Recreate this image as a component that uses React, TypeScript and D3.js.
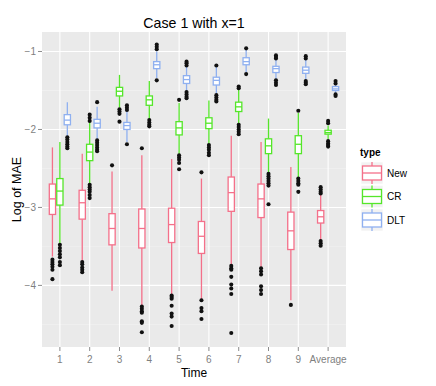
import React, { useRef, useEffect } from 'react';
import * as d3 from 'd3';

const categories = ['1', '2', '3', '4', '5', '6', '7', '8', '9', 'Average'];
const types = ['New', 'CR', 'DLT'];
const colors = ['#F4708A', '#55E62A', '#8FB0F0'];
const yTicks = [-1, -2, -3, -4];
const yMinor = [-1.5, -2.5, -3.5, -4.5];

// [lower whisker, q1, median, q3, upper whisker]
const newStats = [
  [-3.63, -3.09, -2.89, -2.7, -2.23],
  [-3.69, -3.15, -2.94, -2.78, -2.31],
  [-4.07, -3.48, -3.27, -3.08, -2.54],
  [-4.25, -3.52, -3.27, -3.02, -2.33],
  [-4.12, -3.45, -3.22, -3.01, -2.38],
  [-4.18, -3.59, -3.37, -3.18, -2.63],
  [-3.74, -3.05, -2.81, -2.61, -2.08],
  [-3.77, -3.13, -2.89, -2.7, -2.16],
  [-4.19, -3.54, -3.3, -3.06, -2.48],
  [-3.42, -3.2, -3.12, -3.04, -2.84],
];
const newOutliers = [
  [-3.67, -3.7, -3.73, -3.76, -3.8, -3.92],
  [-3.7, -3.73, -3.77, -3.8, -3.83],
  [-2.46],
  [-2.24, -4.27, -4.3, -4.33, -4.35, -4.46, -4.48, -4.6],
  [-4.13, -4.15, -4.17, -4.26, -4.36, -4.4, -4.52],
  [-2.55, -4.19, -4.29, -4.33, -4.43],
  [-3.75, -3.78, -3.8, -3.89, -3.99, -4.04, -4.11, -4.61],
  [-3.78, -3.82, -3.86, -4.01, -4.06, -4.11],
  [-4.25],
  [-2.74, -2.77, -2.8, -2.82, -3.43, -3.46, -3.49],
];

const crStats = [
  [-3.46, -2.97, -2.79, -2.63, -2.16],
  [-2.69, -2.4, -2.29, -2.19, -1.9],
  [-1.72, -1.57, -1.51, -1.46, -1.3],
  [-1.87, -1.69, -1.62, -1.57, -1.38],
  [-2.32, -2.07, -1.98, -1.9, -1.66],
  [-2.19, -1.99, -1.92, -1.85, -1.63],
  [-1.93, -1.77, -1.71, -1.65, -1.49],
  [-2.56, -2.31, -2.21, -2.12, -1.86],
  [-2.61, -2.31, -2.19, -2.08, -1.79],
  [-2.13, -2.06, -2.04, -2.01, -1.95],
];
const crOutliers = [
  [-3.48, -3.52, -3.56, -3.6, -3.64, -3.7, -3.74],
  [-1.81, -1.85, -1.89, -2.71, -2.74, -2.77, -2.8, -2.84, -2.88],
  [-1.74, -1.77, -1.8, -1.9],
  [-1.88, -1.91, -1.94, -1.96],
  [-1.62, -2.33, -2.36, -2.39, -2.43, -2.51],
  [-2.2, -2.23, -2.26, -2.3, -2.33],
  [-1.45, -1.47, -1.94, -1.97, -2.0, -2.03, -2.06],
  [-2.57, -2.6, -2.63, -2.66, -2.69, -2.72, -2.96],
  [-1.76, -2.63, -2.66, -2.69, -2.71, -2.8],
  [-1.89, -1.92, -2.15, -2.18, -2.2, -2.22],
];

const dltStats = [
  [-2.09, -1.94, -1.88, -1.81, -1.65],
  [-2.13, -1.98, -1.92, -1.87, -1.71],
  [-2.16, -2.0, -1.95, -1.91, -1.76],
  [-1.34, -1.22, -1.17, -1.13, -1.0],
  [-1.51, -1.41, -1.36, -1.31, -1.19],
  [-1.54, -1.43, -1.37, -1.33, -1.2],
  [-1.27, -1.17, -1.13, -1.08, -0.98],
  [-1.36, -1.27, -1.22, -1.19, -1.1],
  [-1.36, -1.28, -1.24, -1.2, -1.11],
  [-1.53, -1.5, -1.48, -1.45, -1.42],
];
const dltOutliers = [
  [-2.1, -2.13, -2.16, -2.19, -2.22, -2.24],
  [-1.65, -2.14, -2.17, -2.2, -2.23, -2.26, -2.28],
  [-1.69, -1.72, -1.75, -2.19],
  [-0.91, -0.94, -0.97, -1.37],
  [-1.13, -1.15, -1.18, -1.52, -1.55, -1.58, -1.6],
  [-1.18, -1.56, -1.59, -1.62, -1.64],
  [-0.96, -1.29],
  [-1.05, -1.07, -1.09, -1.37, -1.4, -1.43],
  [-1.06, -1.09, -1.38, -1.4, -1.42],
  [-1.38, -1.41, -1.55, -1.57],
];

const allStats = [newStats, crStats, dltStats];
const allOutliers = [newOutliers, crOutliers, dltOutliers];

export default function App() {
  const ref = useRef<SVGSVGElement>(null);
  useEffect(() => {
    const W = 436, H = 386;
    const m = { left: 42, right: 90, top: 32, bottom: 39 };
    const svg = d3.select(ref.current);
    svg.selectAll('*').remove();
    const font = 'Liberation Sans, Arial, Helvetica, sans-serif';
    svg.attr('width', W).attr('height', H).style('font-family', font);

    // ggplot style discrete axis: 0.6 unit expansion on each side
    const x = d3.scalePoint().domain(categories).range([m.left, W - m.right]).padding(0.6);
    const unit = x.step();
    const cx = (c: string) => x(c) as number;
    const y = d3.scaleLinear().domain([-4.79, -0.75]).range([H - m.bottom, m.top]);

    const g = svg.append('g');
    g.append('rect')
      .attr('x', m.left).attr('y', m.top)
      .attr('width', W - m.right - m.left).attr('height', H - m.bottom - m.top)
      .attr('fill', '#EAEAEA');
    yMinor.forEach(v => {
      g.append('line').attr('x1', m.left).attr('x2', W - m.right)
        .attr('y1', y(v)).attr('y2', y(v)).attr('stroke', '#F4F4F4').attr('stroke-width', 0.6);
    });
    yTicks.forEach(v => {
      g.append('line').attr('x1', m.left).attr('x2', W - m.right)
        .attr('y1', y(v)).attr('y2', y(v)).attr('stroke', '#fff').attr('stroke-width', 1.1);
    });
    categories.forEach(c => {
      g.append('line').attr('x1', cx(c)).attr('x2', cx(c))
        .attr('y1', m.top).attr('y2', H - m.bottom).attr('stroke', '#fff').attr('stroke-width', 1.1);
    });

    const bw = unit * 0.75 / types.length;
    types.forEach((t, ti) => {
      const col = colors[ti];
      categories.forEach((c, ci) => {
        const [lo, q1, med, q3, hi] = allStats[ti][ci];
        const xc = cx(c) + (ti - 1) * bw;
        const box = g.append('g');
        box.append('line').attr('x1', xc).attr('x2', xc).attr('y1', y(hi)).attr('y2', y(q3))
          .attr('stroke', col).attr('stroke-width', 1.3);
        box.append('line').attr('x1', xc).attr('x2', xc).attr('y1', y(q1)).attr('y2', y(lo))
          .attr('stroke', col).attr('stroke-width', 1.3);
        box.append('rect').attr('x', xc - bw / 2 + 0.6).attr('width', bw - 1.2)
          .attr('y', y(q3)).attr('height', y(q1) - y(q3))
          .attr('fill', '#fff').attr('stroke', col).attr('stroke-width', 1.3);
        box.append('line').attr('x1', xc - bw / 2 + 0.6).attr('x2', xc + bw / 2 - 0.6)
          .attr('y1', y(med)).attr('y2', y(med)).attr('stroke', col).attr('stroke-width', 1.3);
        allOutliers[ti][ci].forEach(v => {
          box.append('circle').attr('cx', xc).attr('cy', y(v)).attr('r', 2.05).attr('fill', '#111');
        });
      });
    });

    // axes
    const axisCol = '#7F7F7F';
    yTicks.forEach(v => {
      g.append('line').attr('x1', m.left - 4).attr('x2', m.left).attr('y1', y(v)).attr('y2', y(v))
        .attr('stroke', axisCol).attr('stroke-width', 0.9);
      g.append('text').attr('x', m.left - 6).attr('y', y(v)).attr('dy', '0.35em')
        .attr('text-anchor', 'end').attr('font-size', 10).attr('fill', axisCol)
        .text(String(v).replace('-', '\u2212'));
    });
    categories.forEach(c => {
      g.append('line').attr('x1', cx(c)).attr('x2', cx(c)).attr('y1', H - m.bottom).attr('y2', H - m.bottom + 4)
        .attr('stroke', axisCol).attr('stroke-width', 0.9);
      g.append('text').attr('x', cx(c)).attr('y', H - m.bottom + 15.5)
        .attr('text-anchor', 'middle').attr('font-size', 10).attr('fill', axisCol).text(c);
    });

    svg.append('text').attr('x', (m.left + W - m.right) / 2).attr('y', 28)
      .attr('text-anchor', 'middle').attr('font-size', 14.2).attr('fill', '#000').text('Case 1 with x=1');
    svg.append('text').attr('x', (m.left + W - m.right) / 2).attr('y', 377)
      .attr('text-anchor', 'middle').attr('font-size', 12).attr('fill', '#000').text('Time');
    svg.append('text').attr('transform', `translate(21,${(m.top + H - m.bottom) / 2}) rotate(-90)`)
      .attr('text-anchor', 'middle').attr('font-size', 12.5).attr('fill', '#000').text('Log of MAE');

    // legend
    const lg = svg.append('g');
    lg.append('text').attr('x', 360).attr('y', 156).attr('font-size', 10).attr('font-weight', 'bold').text('type');
    const kx = 361, kw = 22, kh = 22;
    types.forEach((t, i) => {
      const ky = 162 + i * 23.5;
      lg.append('rect').attr('x', kx).attr('y', ky).attr('width', kw).attr('height', kh)
        .attr('fill', '#F2F2F2').attr('stroke', '#fff').attr('stroke-width', 0.6);
      const mx = kx + kw / 2;
      lg.append('line').attr('x1', mx).attr('x2', mx).attr('y1', ky).attr('y2', ky + kh)
        .attr('stroke', colors[i]).attr('stroke-width', 1.3);
      lg.append('rect').attr('x', kx + 1.5).attr('y', ky + 4).attr('width', kw - 3).attr('height', kh - 8)
        .attr('fill', '#fff').attr('stroke', colors[i]).attr('stroke-width', 1.3);
      lg.append('line').attr('x1', kx + 1.5).attr('x2', kx + kw - 1.5).attr('y1', ky + kh / 2).attr('y2', ky + kh / 2)
        .attr('stroke', colors[i]).attr('stroke-width', 1.3);
      lg.append('text').attr('x', 387).attr('y', ky + kh / 2).attr('dy', '0.35em')
        .attr('font-size', 10).text(t);
    });
  }, []);
  return <svg ref={ref} style={{ position: 'absolute', left: 0, top: 0 }} />;
}
